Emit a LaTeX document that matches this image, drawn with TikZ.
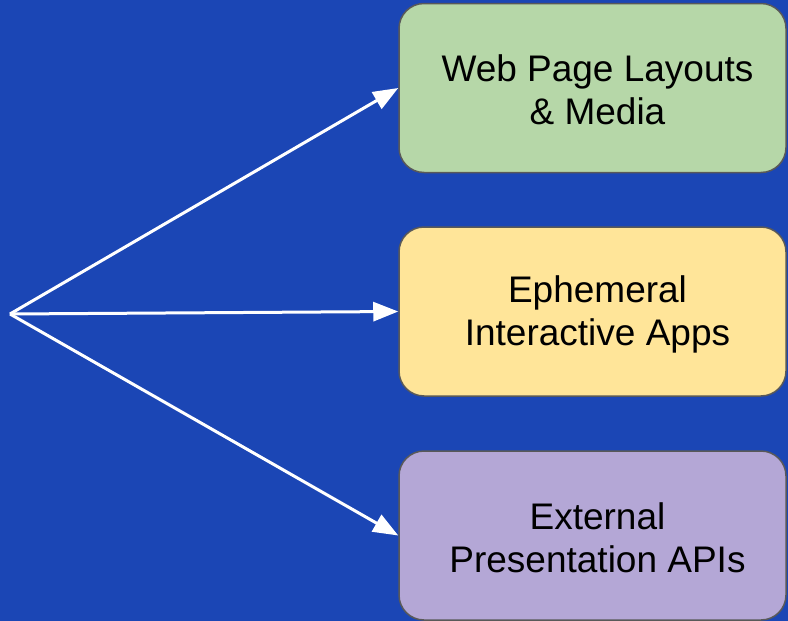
\documentclass[tikz,border=0pt]{standalone}
\usepackage{fontspec}
\setmainfont{Liberation Sans}
\usetikzlibrary{arrows.meta}
\definecolor{bgblue}{HTML}{1B46B5}
\definecolor{boxgreen}{HTML}{B6D7A8}
\definecolor{boxyellow}{HTML}{FFE599}
\definecolor{boxpurple}{HTML}{B4A7D6}
\definecolor{boxedge}{HTML}{595959}
\tikzset{
  card/.style={draw=boxedge, line width=1.5pt, rounded corners=25pt,
    minimum width=387pt, minimum height=169pt, inner sep=0pt},
  cardtext/.style={align=center, text=black,
    font=\fontsize{37}{43}\selectfont},
  flow/.style={draw=white, line width=3pt,
    -{Triangle[length=25pt, width=19pt]}}
}
\begin{document}
\begin{tikzpicture}[x=1pt, y=-1pt]
  \fill[bgblue] (0,0) rectangle (788,621);
  \useasboundingbox (0,0) rectangle (788,621);

  % three destination cards
  \node[card, fill=boxgreen]  (web)  at (592.5, 88)   {};
  \node[card, fill=boxyellow] (eph)  at (592.5, 311.5) {};
  \node[card, fill=boxpurple] (ext)  at (592.5, 535.5) {};

  \node[cardtext] (webtxt) at ([xshift=5pt, yshift=-2pt]web.center) {Web Page Layouts\\\& Media};
  \node[cardtext] (ephtxt) at ([xshift=5pt, yshift=-3pt]eph.center) {Ephemeral\\Interactive Apps};
  \node[cardtext] (exttxt) at ([xshift=5pt, yshift=-2pt]ext.center) {External\\Presentation APIs};

  % common source point and connectors
  \coordinate (src) at (10, 314);
  \draw[flow] (src) -- (web.west);
  \draw[flow] (src) -- (eph.west);
  \draw[flow] (src) -- (ext.west);
\end{tikzpicture}
\end{document}
